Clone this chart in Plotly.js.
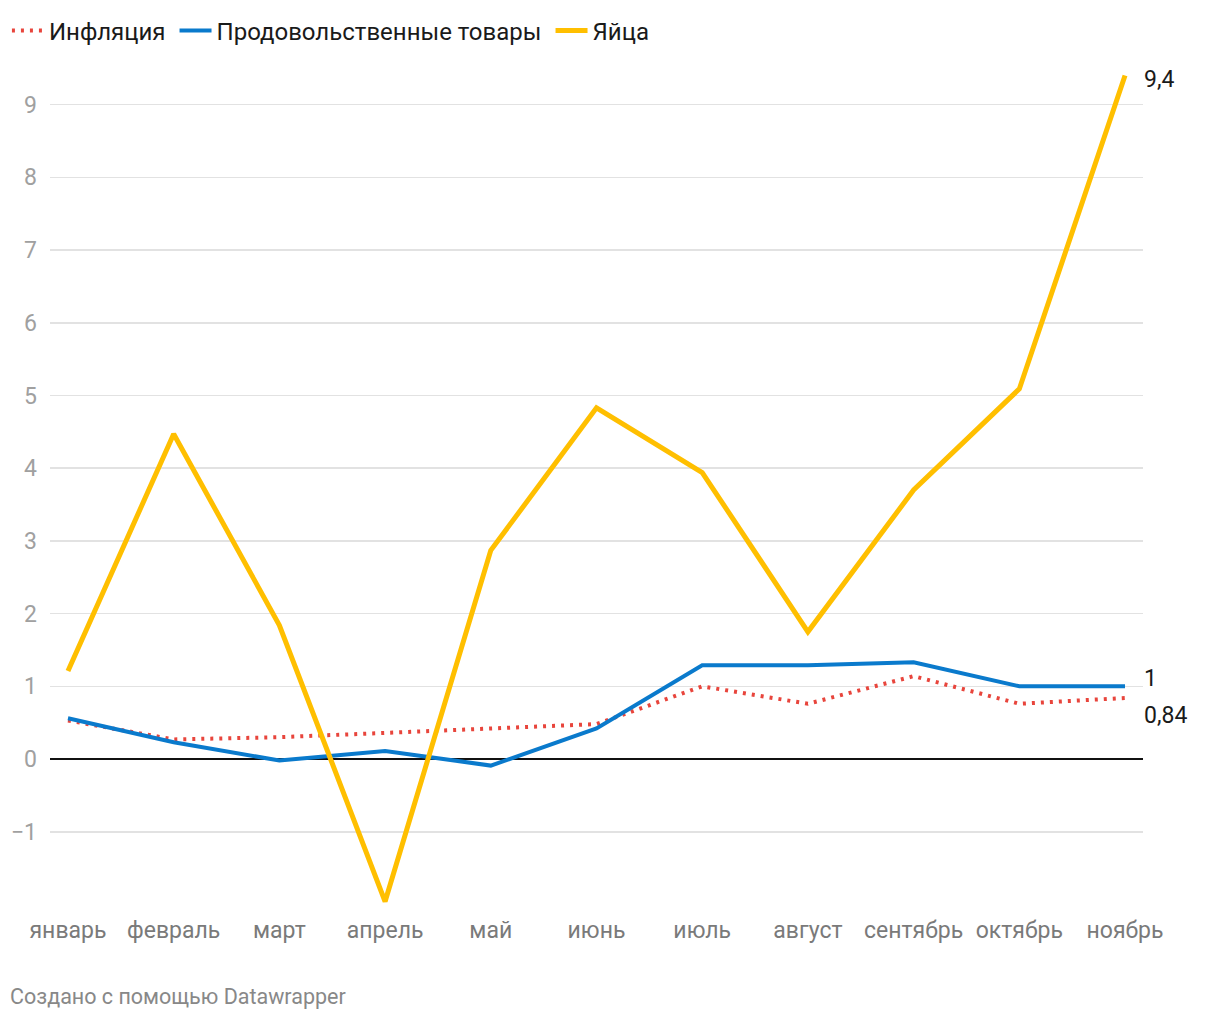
<!DOCTYPE html>
<html>
<head>
<meta charset="utf-8">
<script src="https://cdn.plot.ly/plotly-3.0.1.min.js"></script>
<style>
  html, body { margin: 0; padding: 0; background: #fff; }
  #chart { width: 1220px; height: 1020px; }
</style>
</head>
<body>
<div id="chart"></div>
<script>
const months = ["январь","февраль","март","апрель","май","июнь","июль","август","сентябрь","октябрь","ноябрь"];
const inflation = [0.53, 0.27, 0.30, 0.36, 0.43, 0.48, 1.00, 0.76, 1.14, 0.76, 0.84];
const food = [0.56, 0.23, -0.02, 0.11, -0.09, 0.42, 1.29, 1.29, 1.33, 1.00, 1.00];
const eggs = [1.21, 4.47, 1.84, -1.96, 2.87, 4.83, 3.94, 1.75, 3.70, 5.09, 9.40];
const seriesNames = ["Инфляция", "Продовольственные товары", "Яйца"];
const endLabels = ["0,84", "1", "9,4"];
const yTicks = [-1, 0, 1, 2, 3, 4, 5, 6, 7, 8, 9];
const yTickText = ["−1", "0", "1", "2", "3", "4", "5", "6", "7", "8", "9"];

const idx = months.map((m, i) => i);
const font = "Roboto, 'Noto Sans', sans-serif";
const pad = "\u2006"; // small trailing gap between legend entries

const traces = [
  { x: idx, y: inflation, name: seriesNames[0] + pad, mode: "lines",
    line: { color: "#e8453c", width: 4, dash: "3px,6px" } },
  { x: idx, y: food, name: seriesNames[1] + pad, mode: "lines",
    line: { color: "#0a7acc", width: 4 } },
  { x: idx, y: eggs, name: seriesNames[2], mode: "lines",
    line: { color: "#ffbf00", width: 5 } }
];

const last = idx.length - 1;
const annotations = [
  { x: last, y: inflation[last], text: endLabels[0], yshift: -18 },
  { x: last, y: food[last], text: endLabels[1], yshift: 8 },
  { x: last, y: eggs[last], text: endLabels[2], yshift: -4 }
].map(a => Object.assign({
  xref: "x", yref: "y", showarrow: false, xanchor: "left", yanchor: "middle",
  xshift: 17, font: { family: font, size: 23, color: "#1a1a1a" }
}, a));

annotations.push({
  xref: "paper", yref: "paper", x: 0, y: 0, xanchor: "left", yanchor: "middle",
  xshift: -42, yshift: -77, showarrow: false,
  text: "Создано с помощью Datawrapper",
  font: { family: font, size: 21.5, color: "#888" }
});

const layout = {
  width: 1220, height: 1020,
  margin: { l: 50, r: 77, t: 61, b: 101, autoexpand: false },
  paper_bgcolor: "#fff", plot_bgcolor: "#fff",
  font: { family: font },
  showlegend: true,
  legend: {
    orientation: "h", x: -0.0394, xanchor: "left",
    y: 1.035, yanchor: "middle",
    font: { family: font, size: 24, color: "#1a1a1a" },
    itemwidth: 32, tracegroupgap: 0
  },
  xaxis: {
    range: [-0.17, 10.17], tickmode: "array", tickvals: idx, ticktext: months,
    showgrid: false, zeroline: false, showline: false, ticks: "",
    ticklabelstandoff: -5,
    tickfont: { family: font, size: 23, color: "#7a7a7a" }, fixedrange: true
  },
  yaxis: {
    range: [-2.2, 9.6], tickmode: "array", tickvals: yTicks, ticktext: yTickText,
    showgrid: true, gridcolor: "#e2e2e2", gridwidth: 1.5,
    zeroline: true, zerolinecolor: "#111", zerolinewidth: 2,
    showline: false, ticks: "", ticklabelstandoff: 12,
    tickfont: { family: font, size: 23, color: "#a0a0a0" }, fixedrange: true
  },
  annotations: annotations
};

Plotly.newPlot("chart", traces, layout, { displayModeBar: false, staticPlot: true });
</script>
</body>
</html>
